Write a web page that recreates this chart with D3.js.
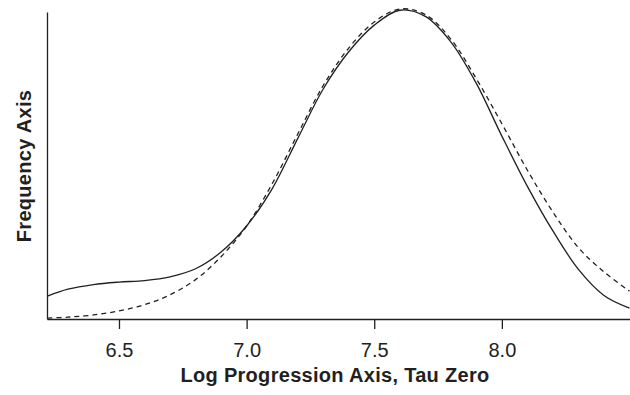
<!DOCTYPE html>
<html>
<head>
<meta charset="utf-8">
<script src="https://cdn.jsdelivr.net/npm/d3@7"></script>
<style>
  body { margin: 0; background: #fff; }
  svg { display: block; font-family: "Liberation Sans", Arial, sans-serif; }
</style>
</head>
<body>
<svg width="630" height="395"></svg>
<script>
// значения по оси X (логарифм)
const xValues = [6.22, 6.3, 6.4, 6.5, 6.6, 6.7, 6.8, 6.9, 7.0, 7.1, 7.2, 7.3, 7.4, 7.5, 7.6,
                 7.7, 7.8, 7.9, 8.0, 8.1, 8.2, 8.3, 8.4, 8.5];
// сплошная кривая
const solidValues = [0.074, 0.096, 0.111, 0.119, 0.124, 0.136, 0.162, 0.216, 0.300, 0.420, 0.582, 0.742,
                     0.862, 0.948, 0.996, 0.976, 0.894, 0.760, 0.590, 0.428, 0.284, 0.160, 0.076, 0.035];
// пунктирная кривая
const dashedValues = [0.003, 0.006, 0.013, 0.026, 0.046, 0.078, 0.127, 0.201, 0.300, 0.436, 0.596, 0.753,
                      0.874, 0.958, 1.0, 0.982, 0.903, 0.775, 0.630, 0.480, 0.345, 0.230, 0.152, 0.090];
const tickValues = [6.5, 7.0, 7.5, 8.0];
const xTitle = "Log Progression Axis, Tau Zero";
const yTitle = "Frequency Axis";

const svg = d3.select("svg");
const area = { left: 47, right: 630, top: 9, bottom: 319 };
const ink = "#231f20";

let scX = d3.scaleLinear().domain([6.218, 8.502]).range([area.left, area.right]);
let scY = d3.scaleLinear().domain([0, 1]).range([area.bottom, area.top]);

// ось X
let gx = svg.append("g")
    .attr("transform", `translate(0, ${area.bottom})`)
    .call(d3.axisBottom(scX).tickValues(tickValues).tickFormat(d3.format(".1f"))
        .tickSize(10).tickSizeOuter(0).tickPadding(14));
gx.select(".domain").attr("stroke", ink).attr("stroke-width", 1.3);
gx.selectAll(".tick line").attr("stroke", ink).attr("stroke-width", 1.3);
gx.selectAll("text")
    .attr("fill", ink)
    .style("font-size", "20px");

// ось Y без делений
let axisScY = scY.copy().domain([0, 0.99]).range([scY(0), scY(0.99)]);
let gy = svg.append("g")
    .attr("transform", `translate(${area.left}, 0)`)
    .call(d3.axisLeft(axisScY).tickValues([]).tickSizeOuter(0));
gy.select(".domain").attr("stroke", ink).attr("stroke-width", 1.3);

// подписи осей
svg.append("text")
    .attr("x", 335)
    .attr("y", 382)
    .attr("text-anchor", "middle")
    .attr("fill", ink)
    .style("font-size", "20px")
    .style("font-weight", "bold")
    .style("letter-spacing", "0.3px")
    .text(xTitle);

svg.append("text")
    .attr("transform", "translate(31, 166) rotate(-90)")
    .attr("text-anchor", "middle")
    .attr("fill", ink)
    .style("font-size", "20px")
    .style("font-weight", "bold")
    .style("letter-spacing", "0.3px")
    .text(yTitle);

// кривые
let line = d3.line()
    .x(d => scX(d[0]))
    .y(d => scY(d[1]))
    .curve(d3.curveCatmullRom.alpha(0.5));

svg.append("path")
    .datum(xValues.map((x, i) => [x, dashedValues[i]]))
    .attr("d", line)
    .attr("fill", "none")
    .attr("stroke", ink)
    .attr("stroke-width", 1.3)
    .attr("stroke-dasharray", "5,4");

svg.append("path")
    .datum(xValues.map((x, i) => [x, solidValues[i]]))
    .attr("d", line)
    .attr("fill", "none")
    .attr("stroke", ink)
    .attr("stroke-width", 1.3);
</script>
</body>
</html>
